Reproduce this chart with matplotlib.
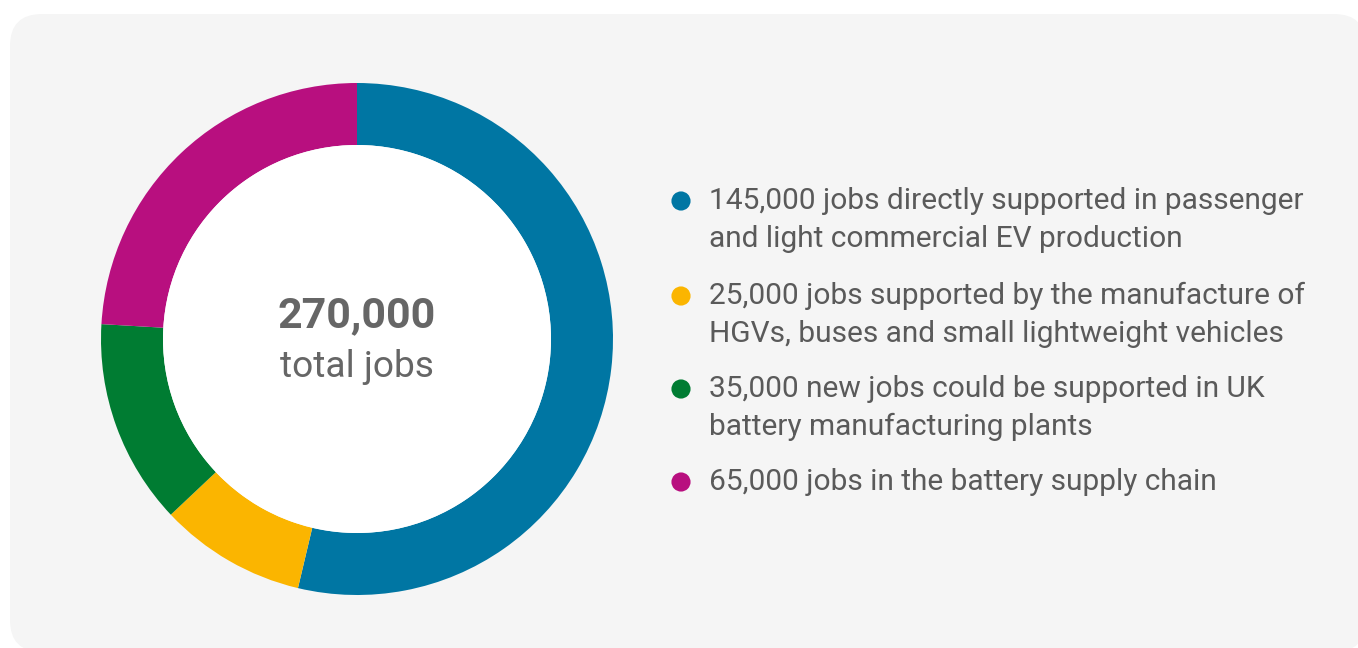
import matplotlib
matplotlib.use("Agg")
import matplotlib.pyplot as plt
from matplotlib.patches import FancyBboxPatch

# job counts by segment, drawn clockwise from 12 o'clock
segments = ["passenger_lcv", "hgv_bus", "battery_plants", "supply_chain"]
jobs = [145000, 25000, 35000, 65000]
colors = ["#0076a3", "#fbb500", "#007c32", "#b80f7f"]
labels = [
    "145,000 jobs directly supported in passenger\nand light commercial EV production",
    "25,000 jobs supported by the manufacture of\nHGVs, buses and small lightweight vehicles",
    "35,000 new jobs could be supported in UK\nbattery manufacturing plants",
    "65,000 jobs in the battery supply chain",
]
total_label = f"{sum(jobs):,}"

W, H = 1358, 648
TEXT = "#5a5a5a"
FONT = ["Roboto", "DejaVu Sans"]

fig = plt.figure(figsize=(W / 100, H / 100), dpi=100)
fig.patch.set_facecolor("white")
ax = fig.add_axes([0, 0, 1, 1])

# light grey card behind everything
card = FancyBboxPatch((10, -4), 1356, H - 14 + 4,
                      boxstyle="round,pad=0,rounding_size=32",
                      facecolor="#f5f5f5", edgecolor="none", zorder=0)
ax.add_patch(card)

cx, cy = 357, H - 339
ax.pie(jobs, colors=colors, center=(cx, cy), radius=256,
       startangle=90, counterclock=False,
       wedgeprops=dict(width=62, edgecolor="none", linewidth=0))
ax.add_patch(plt.Circle((cx, cy), 194, facecolor="white", edgecolor="none", zorder=1))

ax.text(cx, H - 316, total_label, ha="center", va="center", fontsize=31,
        fontweight="bold", color="#666666", family=FONT, zorder=3)
ax.text(cx, H - 367, "total jobs", ha="center", va="center", fontsize=26.7,
        color="#666666", family=FONT, zorder=3)

# legend rows: dot + wrapped label
row_y = [201, 296, 389, 482]
for lbl, col, y in zip(labels, colors, row_y):
    ax.scatter([681], [H - y], s=190, color=col, edgecolors="none", zorder=3)
    for i, line in enumerate(lbl.split("\n")):
        ax.text(709, H - y - i * 38, line, ha="left", va="center", fontsize=21.5,
                color=TEXT, family=FONT, zorder=3)

ax.set_xlim(0, W)
ax.set_ylim(0, H)
ax.set_aspect("equal")
ax.axis("off")

fig.savefig("out.png", dpi=100, facecolor=fig.get_facecolor())
